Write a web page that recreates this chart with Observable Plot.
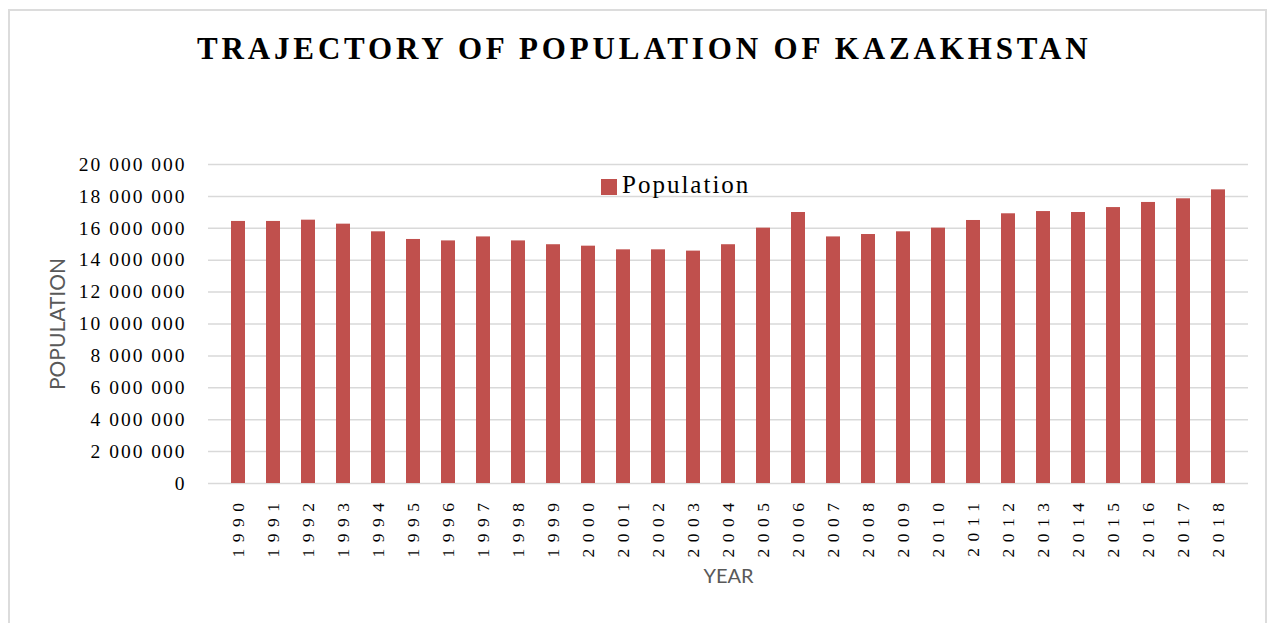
<!DOCTYPE html>
<html><head><meta charset="utf-8">
<script src="https://cdn.jsdelivr.net/npm/d3@7"></script>
<script src="https://cdn.jsdelivr.net/npm/@observablehq/plot@0.6"></script>
<style>
body{margin:0;background:#fff;}
#wrap{position:relative;width:1277px;height:623px;overflow:hidden;background:#fff;}
#frame{position:absolute;left:8px;top:9px;width:1259px;height:640px;border:2px solid #dcdcdc;box-sizing:border-box;}
#title{position:absolute;left:197px;top:34px;font-family:"Liberation Serif",serif;font-weight:bold;font-size:31px;letter-spacing:3.85px;line-height:30px;white-space:nowrap;color:#000;}
#chart{position:absolute;left:0;top:130px;}
#legend{position:absolute;left:601px;top:170px;height:30px;white-space:nowrap;}
#legend .sw{position:absolute;left:0;top:8.5px;width:16px;height:16px;background:#c0504d;}
#legend .lb{position:absolute;left:21px;top:0px;font-family:"Liberation Serif",serif;font-size:25px;line-height:30px;letter-spacing:2px;color:#000;}
g[aria-label="y-axis tick label"] text{letter-spacing:2px;}
g[aria-label="x-axis tick label"] text{letter-spacing:6.5px;}
</style>
</head>
<body>
<div id="wrap">
  <div id="frame"></div>
  <div id="title"></div>
  <div id="chart"></div>
  <div id="legend"><div class="sw"></div><div class="lb"></div></div>
</div>
<script>
const titleText = "TRAJECTORY OF POPULATION OF KAZAKHSTAN";
const seriesName = "Population";
const yAxisTitle = "POPULATION";
const xAxisTitle = "YEAR";
const years = ["1990","1991","1992","1993","1994","1995","1996","1997","1998","1999","2000","2001","2002","2003","2004","2005","2006","2007","2008","2009","2010","2011","2012","2013","2014","2015","2016","2017","2018"];
const population = [16430000,16430000,16510000,16260000,15780000,15300000,15210000,15460000,15210000,14970000,14880000,14650000,14650000,14570000,14970000,16010000,16990000,15460000,15610000,15780000,16010000,16490000,16910000,17050000,16990000,17300000,17620000,17850000,18410000];
const yTicks = [0,2000000,4000000,6000000,8000000,10000000,12000000,14000000,16000000,18000000,20000000];

document.getElementById("title").textContent = titleText;
document.querySelector("#legend .lb").textContent = seriesName;

const data = years.map((y, i) => ({year: y, value: population[i]}));
const fmt = d => d3.format(",")(d).replace(/,/g, " ");

const chart = Plot.plot({
  width: 1277,
  height: 470,
  marginTop: 34,
  marginBottom: 117,
  marginLeft: 208,
  marginRight: 29,
  style: {fontFamily: "Liberation Serif, serif", background: "transparent", overflow: "visible", color: "#000"},
  x: {type: "band", domain: years, paddingInner: 0.6, paddingOuter: 0.3},
  y: {domain: [0, 20000000]},
  marks: [
    Plot.gridY(yTicks, {stroke: "#d9d9d9", strokeOpacity: 1, strokeWidth: 1.5}),
    Plot.barY(data, {x: "year", y: "value", fill: "#c0504d"}),
    Plot.axisY(yTicks, {tickSize: 0, tickPadding: 22, fontSize: 19.5, tickFormat: fmt, label: null}),
    Plot.axisX({tickSize: 0, tickRotate: -90, tickPadding: 13, fontSize: 17.5, label: null}),
    Plot.text([yAxisTitle], {text: d => d, frameAnchor: "left", textAnchor: "middle", dx: -150, rotate: -90, fontFamily: "Lato, sans-serif", fontSize: 21, fill: "#595959"}),
    Plot.text([xAxisTitle], {text: d => d, frameAnchor: "bottom", textAnchor: "middle", dy: 99, fontFamily: "Lato, sans-serif", fontSize: 20, fill: "#595959"})
  ]
});
document.getElementById("chart").appendChild(chart);
</script>
</body></html>
